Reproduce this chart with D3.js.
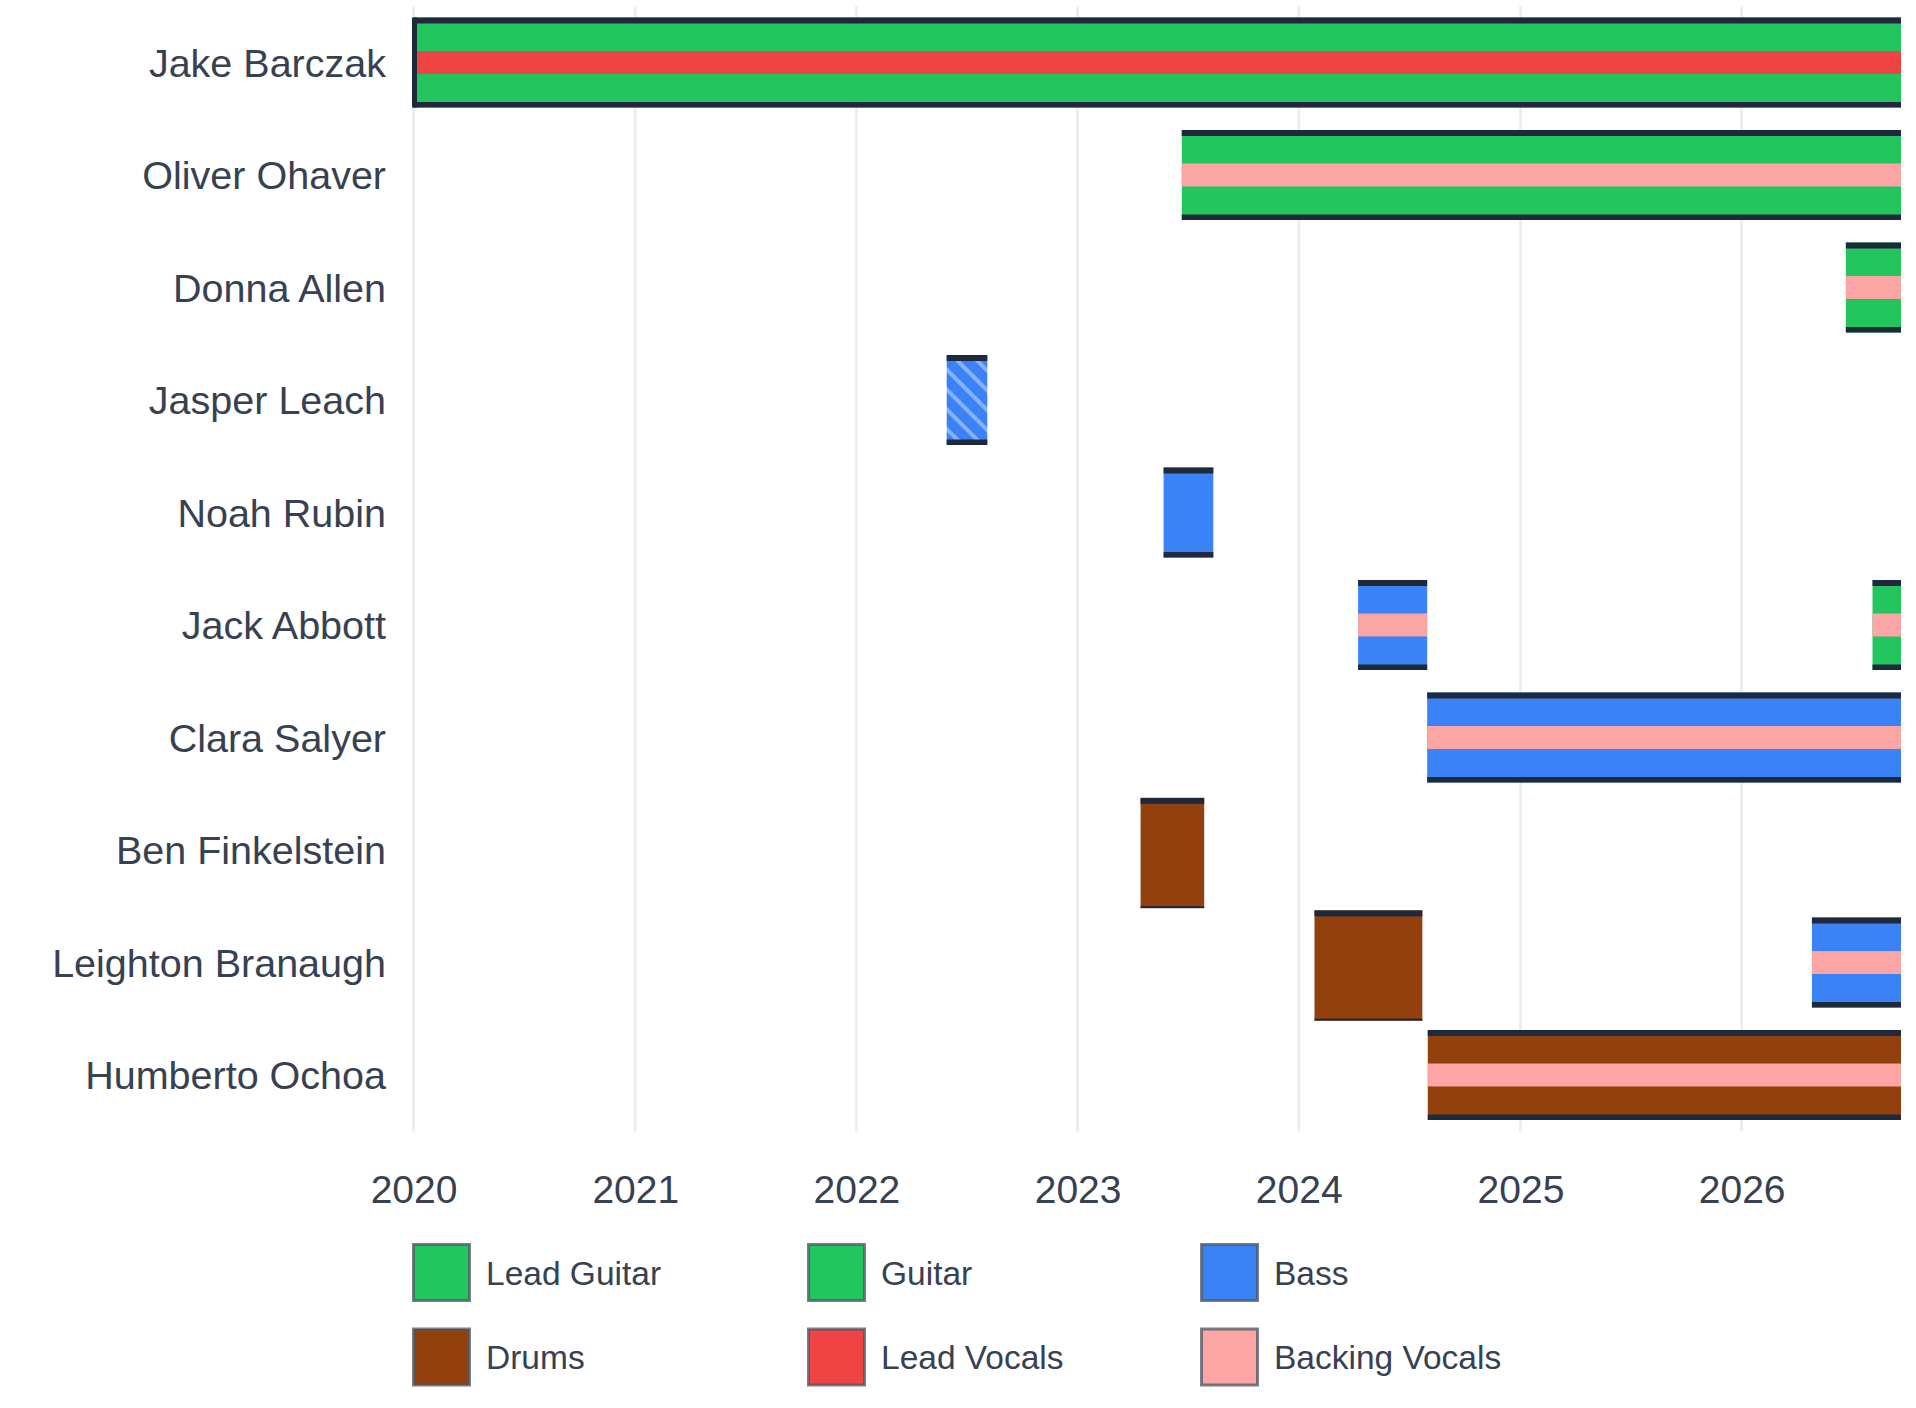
<!DOCTYPE html>
<html>
<head>
<meta charset="utf-8">
<script src="https://cdn.jsdelivr.net/npm/d3@7"></script>
<style>
  html, body { margin: 0; padding: 0; background: #ffffff; }
  svg { display: block; font-family: "Liberation Sans", Arial, Helvetica, sans-serif; }
</style>
</head>
<body>
<svg id="chart" width="1916" height="1408"></svg>
<script>
// ---------------- data ----------------
const members = [
  "Jake Barczak", "Oliver Ohaver", "Donna Allen", "Jasper Leach", "Noah Rubin",
  "Jack Abbott", "Clara Salyer", "Ben Finkelstein", "Leighton Branaugh", "Humberto Ochoa"
];

const roles = ["Lead Guitar", "Guitar", "Bass", "Drums", "Lead Vocals", "Backing Vocals"];
const roleColors = ["#22c55e", "#22c55e", "#3b82f6", "#92400e", "#ef4444", "#fca5a5"];

const yearTicks = ["2020", "2021", "2022", "2023", "2024", "2025", "2026"];
const timelineStart = "2020-01-01";
const asOf = "2026-09-21";

// stints: member, instrument role, vocal role (or null), start, end (null = ongoing), hatched
const stintMember = ["Jake Barczak", "Oliver Ohaver", "Donna Allen", "Jasper Leach", "Noah Rubin",
                     "Jack Abbott", "Jack Abbott", "Clara Salyer", "Ben Finkelstein",
                     "Leighton Branaugh", "Leighton Branaugh", "Humberto Ochoa"];
const stintRole   = ["Lead Guitar", "Guitar", "Guitar", "Bass", "Bass",
                     "Bass", "Guitar", "Bass", "Drums",
                     "Drums", "Bass", "Drums"];
const stintVocal  = ["Lead Vocals", "Backing Vocals", "Backing Vocals", null, null,
                     "Backing Vocals", "Backing Vocals", "Backing Vocals", null,
                     null, "Backing Vocals", "Backing Vocals"];
const stintStart  = ["2020-01-01", "2023-06-22", "2026-06-22", "2022-05-30", "2023-05-23",
                     "2024-04-08", "2026-08-05", "2024-07-31", "2023-04-15",
                     "2024-01-27", "2026-04-27", "2024-08-01"];
const stintEnd    = [null, null, null, "2022-08-05", "2023-08-13",
                     "2024-07-31", null, null, "2023-07-29",
                     "2024-07-23", null, null];
const stintHatched = [false, false, false, true, false, false, false, false, false, false, false, false];

// ---------------- build ----------------
const parse = d3.utcParse("%Y-%m-%d");
const colorOf = d3.scaleOrdinal().domain(roles).range(roleColors);

const stints = stintMember.map((m, i) => ({
  member: m,
  role: stintRole[i],
  vocal: stintVocal[i],
  start: parse(stintStart[i]),
  end: stintEnd[i] ? parse(stintEnd[i]) : parse(asOf),
  hatched: stintHatched[i]
}));

const svg = d3.select("#chart");
const W = 1916, H = 1408;
const plot = { left: 413.5, right: 1901, top: 6.25, bottom: 1131.25 };

const x = d3.scaleUtc()
  .domain([parse(timelineStart), parse(asOf)])
  .range([plot.left, plot.right]);

const y = d3.scaleBand()
  .domain(members)
  .range([plot.top, plot.bottom])
  .padding(0);

const textColor = "#374151";
const borderColor = "#1e293b";

// defs: hatch pattern + clip
const defs = svg.append("defs");
const pat = defs.append("pattern")
  .attr("id", "hatch")
  .attr("patternUnits", "userSpaceOnUse")
  .attr("width", 14).attr("height", 14)
  .attr("patternTransform", "rotate(-45)");
pat.append("rect").attr("width", 14).attr("height", 14).attr("fill", colorOf("Bass"));
pat.append("rect").attr("x", 0).attr("width", 4).attr("height", 14).attr("fill", "#85b2f9");

defs.append("clipPath").attr("id", "plotclip")
  .append("rect")
  .attr("x", plot.left - 4).attr("y", 0)
  .attr("width", plot.right - plot.left + 4).attr("height", H);

// gridlines
const tickDates = yearTicks.map(t => parse(t + "-01-01"));
svg.append("g").attr("class", "grid")
  .selectAll("line")
  .data(tickDates)
  .join("line")
  .attr("x1", d => x(d)).attr("x2", d => x(d))
  .attr("y1", plot.top).attr("y2", plot.bottom)
  .attr("stroke", "#eeeeee")
  .attr("stroke-width", 3);

// x-axis labels via d3 axis
const xAxis = d3.axisBottom(x)
  .tickValues(tickDates)
  .tickFormat(d3.utcFormat("%Y"))
  .tickSize(0)
  .tickPadding(0);
const gx = svg.append("g")
  .attr("transform", `translate(0, 1175)`)
  .call(xAxis);
gx.select(".domain").remove();
gx.selectAll("text")
  .attr("font-size", 39)
  .attr("font-family", "'Liberation Sans', Arial, sans-serif")
  .attr("fill", textColor)
  .attr("dy", "0.71em");

// y-axis labels
const yAxis = d3.axisLeft(y).tickSize(0).tickPadding(0);
const gy = svg.append("g")
  .attr("transform", `translate(386, 0)`)
  .call(yAxis);
gy.select(".domain").remove();
gy.selectAll("text")
  .attr("font-size", 39.5)
  .attr("font-family", "'Liberation Sans', Arial, sans-serif")
  .attr("fill", textColor)
  .attr("dy", "0.36em");

// bars
const bars = svg.append("g").attr("clip-path", "url(#plotclip)");
const bw = y.bandwidth();

stints.forEach(s => {
  const cy = y(s.member) + bw / 2;
  const tall = (s.role === "Drums" && !s.vocal);
  const h = tall ? bw * 0.98 : bw * 0.8;
  const y0 = cy - h / 2 + (tall ? 3 : 0);
  const x0 = x(s.start), x1 = x(s.end);
  const g = bars.append("g");
  g.append("rect")
    .attr("x", x0).attr("y", y0)
    .attr("width", x1 - x0).attr("height", h)
    .attr("fill", s.hatched ? "url(#hatch)" : colorOf(s.role));
  if (s.vocal) {
    const vh = h * 0.255;
    g.append("rect")
      .attr("x", x0).attr("y", cy - vh / 2)
      .attr("width", x1 - x0).attr("height", vh)
      .attr("fill", colorOf(s.vocal));
  }
  // top & bottom borders
  g.append("rect")
    .attr("x", x0).attr("y", y0)
    .attr("width", x1 - x0).attr("height", 6)
    .attr("fill", borderColor);
  g.append("rect")
    .attr("x", x0).attr("y", y0 + h - (tall ? 2 : 5.5))
    .attr("width", x1 - x0).attr("height", tall ? 2 : 5.5)
    .attr("fill", borderColor);
  // left border where the stint starts at the timeline origin
  if (+s.start === +x.domain()[0]) {
    g.append("rect")
      .attr("x", x0 - 1.5).attr("y", y0)
      .attr("width", 5).attr("height", h)
      .attr("fill", borderColor);
  }
});

// legend
const legendCols = [412, 807, 1200];
const legendRows = [1272.5, 1357];
const lg = svg.append("g").attr("class", "legend");
roles.forEach((r, i) => {
  const cx = legendCols[i % 3];
  const cy = legendRows[Math.floor(i / 3)];
  const item = lg.append("g").attr("transform", `translate(${cx}, ${cy})`);
  item.append("rect")
    .attr("x", 1.5).attr("y", -28)
    .attr("width", 56).attr("height", 56)
    .attr("fill", colorOf(r))
    .attr("stroke", "rgba(75,85,99,0.75)")
    .attr("stroke-width", 3);
  item.append("text")
    .attr("x", 74).attr("y", 0)
    .attr("dy", "0.36em")
    .attr("font-size", 33.5)
    .attr("fill", textColor)
    .text(r);
});
</script>
</body>
</html>
